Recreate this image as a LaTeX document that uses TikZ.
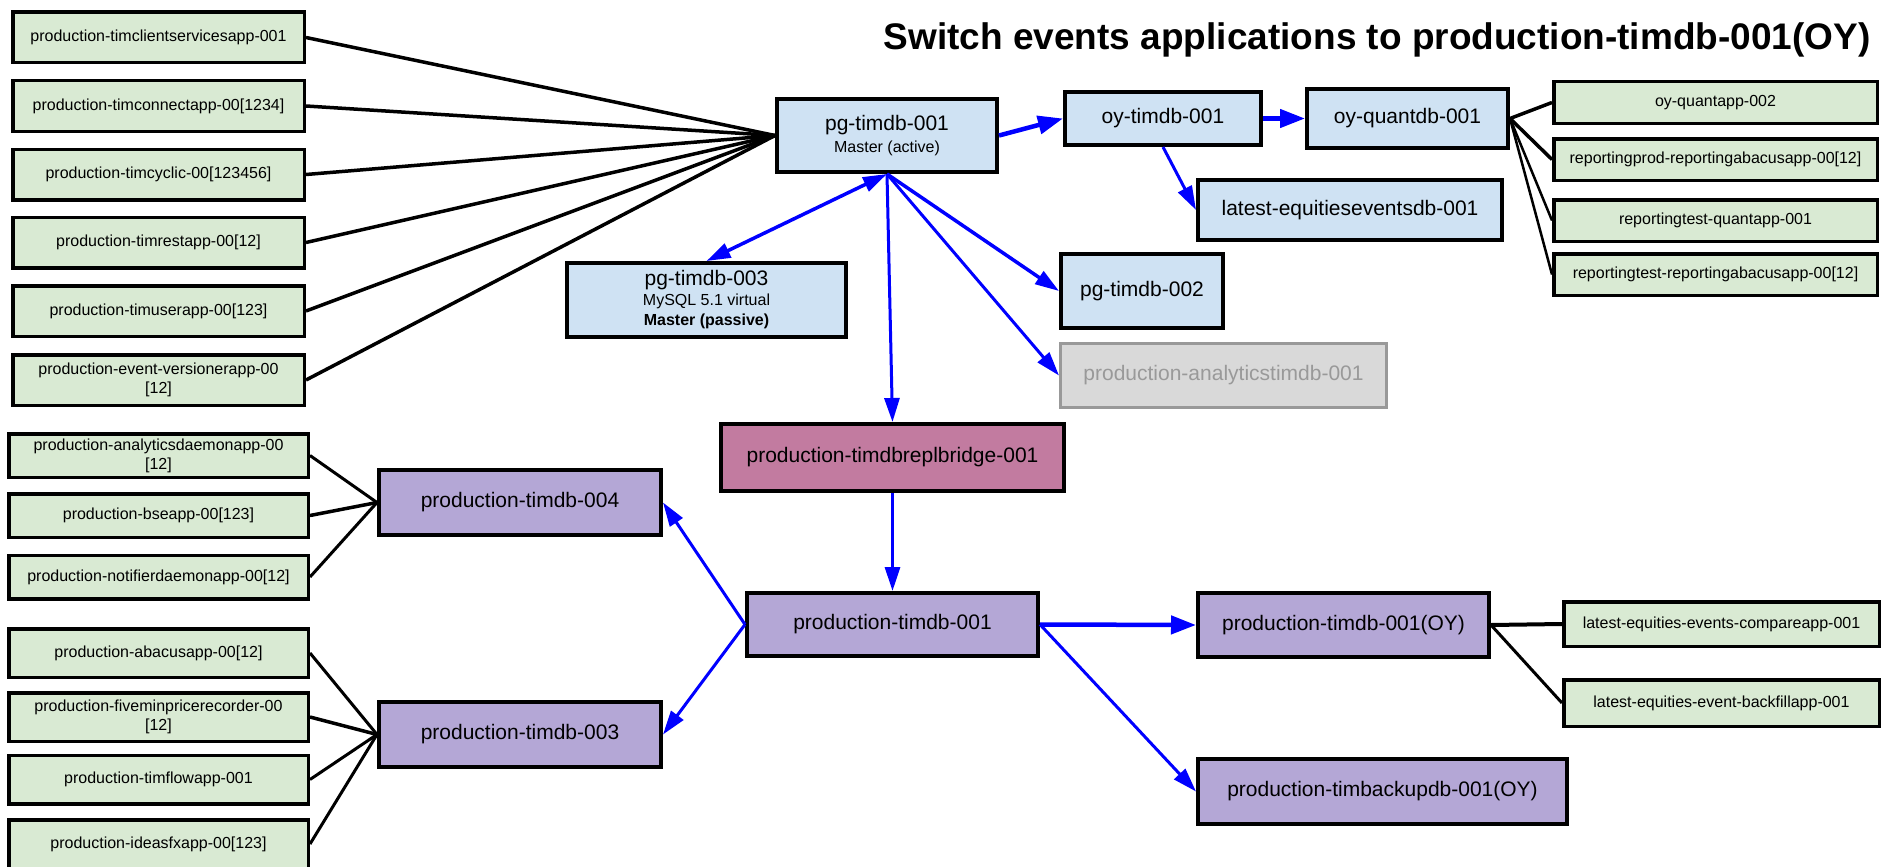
\documentclass[tikz,border=0pt]{standalone}
\usepackage{fontspec}
\setmainfont{Liberation Sans}
\usetikzlibrary{arrows.meta}
\definecolor{appgreen}{HTML}{D9EAD3}
\definecolor{dbblue}{HTML}{CFE2F3}
\definecolor{dbpurple}{HTML}{B4A7D6}
\definecolor{bridgepink}{HTML}{C27BA0}
\definecolor{offgrey}{HTML}{D9D9D9}
\definecolor{offtext}{HTML}{999999}

\begin{document}
\begin{tikzpicture}[x=1pt,y=-1pt]
	\tikzstyle{app} = [draw=black, line width=3.5, fill=appgreen, inner sep=0, align=center, font=\fontsize{16}{19}\selectfont]
	\tikzstyle{appL} = [app, minimum width=291.5, minimum height=50.5]
	\tikzstyle{appM} = [app, minimum width=299.5, minimum height=43.5]
	\tikzstyle{appN} = [app, minimum width=299.5, minimum height=48.5]
	\tikzstyle{appR} = [app, minimum width=323.5, minimum height=41.5]
	\tikzstyle{db} = [draw=black, line width=4, inner sep=0, align=center, font=\fontsize{21}{24}\selectfont]
	\tikzstyle{pgdb} = [db, fill=dbblue]
	\tikzstyle{proddb} = [db, fill=dbpurple]
	\tikzstyle{wire} = [draw=black, line width=3.5]
	\tikzstyle{link} = [draw=blue, line width=3, -{Triangle[length=24pt, width=15pt]}]
	\tikzstyle{fatlink} = [draw=blue, line width=4.5, -{Triangle[length=25pt, width=18pt]}]
	\useasboundingbox (0,0) rectangle (1883,867);

	\node [anchor=base east, font=\fontsize{37}{40}\selectfont\bfseries] (title) at (1874,50) {Switch events applications to production-timdb-001(OY)};

	% applications on pg-timdb-001
	\node [appL] (ua1) at (158.5,37.5) {production-timclientservicesapp-001};
	\node [appL] (ua2) at (158.5,106) {production-timconnectapp-00[1234]};
	\node [appL] (ua3) at (158.5,174.5) {production-timcyclic-00[123456]};
	\node [appL] (ua4) at (158.5,242.5) {production-timrestapp-00[12]};
	\node [appL] (ua5) at (158.5,311) {production-timuserapp-00[123]};
	\node [appL] (ua6) at (158.5,380) {production-event-versionerapp-00\\{[12]}};

	% applications on timdb-004 and timdb-003
	\node [appM] (la1) at (158.5,455.5) {production-analyticsdaemonapp-00\\{[12]}};
	\node [appM] (la2) at (158.5,515.5) {production-bseapp-00[123]};
	\node [appM] (la3) at (158.5,577) {production-notifierdaemonapp-00[12]};
	\node [appN] (la4) at (158.5,653) {production-abacusapp-00[12]};
	\node [appN] (la5) at (158.5,717) {production-fiveminpricerecorder-00\\{[12]}};
	\node [appN] (la6) at (158.5,779.5) {production-timflowapp-001};
	\node [appN] (la7) at (158.5,844) {production-ideasfxapp-00[123]};

	% applications on oy-quantdb-001
	\node [appR] (ra1) at (1715.5,102.5) {oy-quantapp-002};
	\node [appR] (ra2) at (1715.5,159.5) {reportingprod-reportingabacusapp-00[12]};
	\node [appR] (ra3) at (1715.5,220.5) {reportingtest-quantapp-001};
	\node [appR] (ra4) at (1715.5,274.5) {reportingtest-reportingabacusapp-00[12]};

	% applications on production-timdb-001(OY)
	\node [app, minimum width=315.5, minimum height=44.5] (ca1) at (1721.5,624) {latest-equities-events-compareapp-001};
	\node [app, minimum width=315.5, minimum height=46.5] (ca2) at (1721.5,703) {latest-equities-event-backfillapp-001};

	% databases
	\node [pgdb, font=\fontsize{21}{22}\selectfont, minimum width=220, minimum height=73] (pg1) at (887,135.5) {pg-timdb-001\\\fontsize{16}{19}\selectfont Master (active)};
	\node [pgdb, font=\fontsize{21}{20}\selectfont, minimum width=279, minimum height=74] (pg3) at (706.5,300) {pg-timdb-003\\\fontsize{16}{19}\selectfont MySQL 5.1 virtual\\\fontsize{16}{19}\selectfont\bfseries Master (passive)};
	\node [pgdb, minimum width=196, minimum height=53] (oy1) at (1163,118.5) {oy-timdb-001};
	\node [pgdb, minimum width=201, minimum height=59] (oyq) at (1407.5,118.5) {oy-quantdb-001};
	\node [pgdb, minimum width=304, minimum height=60] (les) at (1350,210) {latest-equitieseventsdb-001};
	\node [pgdb, minimum width=162, minimum height=74] (pg2) at (1142,291) {pg-timdb-002};
	\node [db, draw=offtext, line width=3, fill=offgrey, text=offtext, minimum width=326, minimum height=64] (ana) at (1223.5,375.5) {production-analyticstimdb-001};
	\node [db, fill=bridgepink, minimum width=343, minimum height=67] (brg) at (892.5,457.5) {production-timdbreplbridge-001};
	\node [proddb, minimum width=291, minimum height=63] (pt1) at (892.5,624.5) {production-timdb-001};
	\node [proddb, minimum width=291, minimum height=64] (pto) at (1343.5,625) {production-timdb-001(OY)};
	\node [proddb, minimum width=369, minimum height=65] (ptb) at (1382.5,791.5) {production-timbackupdb-001(OY)};
	\node [proddb, minimum width=282, minimum height=65] (pt4) at (520,502.5) {production-timdb-004};
	\node [proddb, minimum width=282, minimum height=65] (pt3) at (520,734.5) {production-timdb-003};

	% app connections
	\draw [wire] (ua1.east) -- (pg1.west);
	\draw [wire] (ua2.east) -- (pg1.west);
	\draw [wire] (ua3.east) -- (pg1.west);
	\draw [wire] (ua4.east) -- (pg1.west);
	\draw [wire] (ua5.east) -- (pg1.west);
	\draw [wire] (ua6.east) -- (pg1.west);
	\draw [wire, line width=3] (la1.east) -- (pt4.west);
	\draw [wire] (la2.east) -- (pt4.west);
	\draw [wire, line width=3] (la3.east) -- (pt4.west);
	\draw [wire, line width=3] (la4.east) -- (pt3.west);
	\draw [wire] (la5.east) -- (pt3.west);
	\draw [wire, line width=3] (la6.east) -- (pt3.west);
	\draw [wire, line width=3] (la7.east) -- (pt3.west);
	\draw [wire] (oyq.east) -- (ra1.west);
	\draw [wire] (oyq.east) -- (ra2.west);
	\draw [wire, line width=2.5] (oyq.east) -- (ra3.west);
	\draw [wire, line width=2.5] (oyq.east) -- (ra4.west);
	\draw [wire, line width=4] (pto.east) -- (ca1.west);
	\draw [wire, line width=3] (pto.east) -- (ca2.west);

	% replication
	\draw [fatlink] (pg1.east) -- (oy1.west);
	\draw [fatlink] (oy1.east) -- (oyq.west);
	\draw [link] (oy1.south) -- (les.west);
	\draw [link, {Triangle[length=24pt, width=15pt]}-{Triangle[length=24pt, width=15pt]}, line width=3.5] (pg1.south) -- (pg3.north);
	\draw [link, line width=3.5] (pg1.south) -- (pg2.west);
	\draw [link] (pg1.south) -- (ana.west);
	\draw [link] (pg1.south) -- (brg.north);
	\draw [link] (brg.south) -- (pt1.north);
	\draw [fatlink] (pt1.east) -- (pto.west);
	\draw [link] (pt1.east) -- (ptb.west);
	\draw [link] (pt1.west) -- (pt4.east);
	\draw [link] (pt1.west) -- (pt3.east);
\end{tikzpicture}
\end{document}
